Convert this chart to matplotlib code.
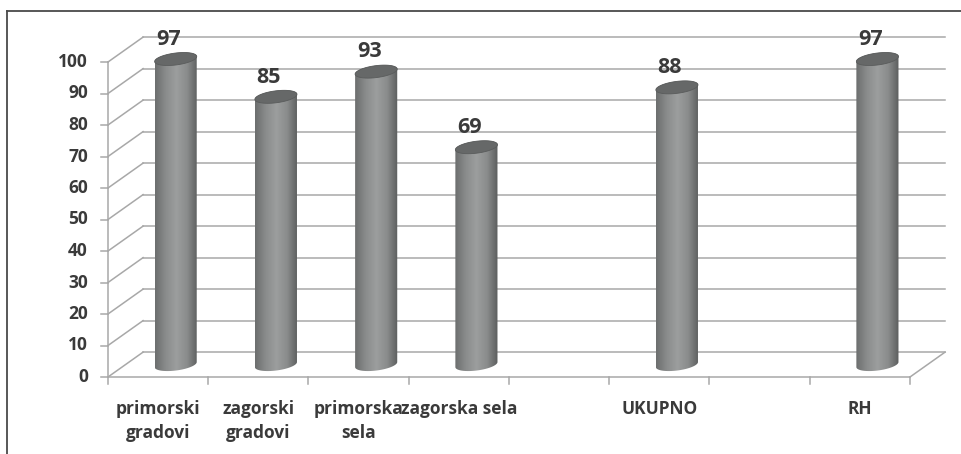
import numpy as np
import matplotlib
matplotlib.use("Agg")
import matplotlib.pyplot as plt
from matplotlib.path import Path
from matplotlib.patches import PathPatch, Polygon
from matplotlib.colors import LinearSegmentedColormap

plt.rcParams['font.family'] = ['Open Sans', 'DejaVu Sans']

# data
categories = ["primorski\ngradovi", "zagorski\ngradovi", "primorska\nsela",
              "zagorska sela", "", "UKUPNO", "", "RH"]
values = [97, 85, 93, 69, None, 88, None, 97]
y_ticks = list(range(0, 101, 10))

# 3d look: offset of the back wall in data units
DX = 0.35
DY = 7.9
R = 0.21       # cylinder radius (x units)
B = 1.9        # half height of ellipse (y units)
K = 0.8        # tilt of ellipse

grid_col = "#a8a8a8"
text_col = "#3a3a3a"

fig = plt.figure(figsize=(9.62, 4.54), dpi=100)
ax = fig.add_axes([0, 0, 1, 1])
ax.axis("off")

n = len(categories)

# back wall gridlines + side wall diagonals
for v in y_ticks:
    ax.plot([DX, n + DX], [v + DY, v + DY], color=grid_col, lw=1.1, zorder=1)
    ax.plot([0, DX], [v, v + DY], color=grid_col, lw=1.1, zorder=1)
    ax.plot([-0.07, 0], [v, v], color=grid_col, lw=1.1, zorder=1)
    ax.text(-0.2, v, str(v), ha="right", va="center", fontsize=12.5,
            fontweight="bold", color=text_col)

# front axis lines and floor
ax.plot([0, 0], [0, 100], color=grid_col, lw=1.1, zorder=1)
ax.plot([0, n], [0, 0], color=grid_col, lw=1.1, zorder=1)
ax.plot([n, n + DX], [0, DY], color=grid_col, lw=1.1, zorder=1)
for i in range(n + 1):
    ax.plot([i, i], [0, -2.2], color=grid_col, lw=1.1, zorder=1)

# category labels
for i, lab in enumerate(categories):
    if lab:
        ax.text(i + 0.5, -7.3, lab, ha="center", va="top", fontsize=12.5,
                fontweight="bold", color=text_col, linespacing=1.45)

cmap = LinearSegmentedColormap.from_list(
    "cyl", ["#6c6e6e", "#8a8c8c", "#9c9e9e", "#8a8c8c", "#5c5e5e"])
grad = np.linspace(0, 1, 200).reshape(1, -1)


def ellipse(cx, cy, t):
    return cx + R * np.cos(t), cy + B * np.sin(t) + K * np.cos(t)


for i, v in enumerate(values):
    if v is None:
        continue
    cx = i + 0.5 + DX / 2
    y0 = DY / 2
    y1 = v + DY / 2
    # body: front half of bottom ellipse, then back half of top ellipse
    xb, yb = ellipse(cx, y0, np.linspace(0, -np.pi, 60))
    xt, yt = ellipse(cx, y1, np.linspace(np.pi, 0, 60))
    verts = np.column_stack([np.concatenate([xb, xt]),
                             np.concatenate([yb, yt])])
    verts = np.vstack([verts, verts[0]])
    patch = PathPatch(Path(verts, closed=True), facecolor="none",
                      edgecolor="none")
    ax.add_patch(patch)
    im = ax.imshow(grad, cmap=cmap, aspect="auto",
                   extent=[cx - R, cx + R, y0 - B - K, y1 + B + K],
                   zorder=3, interpolation="bilinear")
    im.set_clip_path(patch)
    # top ellipse
    ex, ey = ellipse(cx, y1, np.linspace(0, 2 * np.pi, 100))
    ax.add_patch(Polygon(np.column_stack([ex, ey]), closed=True,
                         facecolor="#666868", edgecolor="#5a5c5c", lw=0.6,
                         zorder=4))
    ax.text(cx - 0.07, y1 + B + 1.0, str(v), ha="center", va="bottom",
            fontsize=15.5, fontweight="bold", color=text_col, zorder=5)

ax.set_xlim(-108 / 100.25, (962 - 108) / 100.25)
ax.set_ylim((377 - 454) / 3.15, 377 / 3.15)

# outer frame (top and left edges)
fig.add_artist(plt.Line2D([7 / 962, 7 / 962], [0, 1 - 11 / 454],
                          transform=fig.transFigure, color="#4a4a4a", lw=1.3))
fig.add_artist(plt.Line2D([7 / 962, 1], [1 - 11 / 454, 1 - 11 / 454],
                          transform=fig.transFigure, color="#4a4a4a", lw=1.3))

fig.savefig("out.png", dpi=100, facecolor="white")
